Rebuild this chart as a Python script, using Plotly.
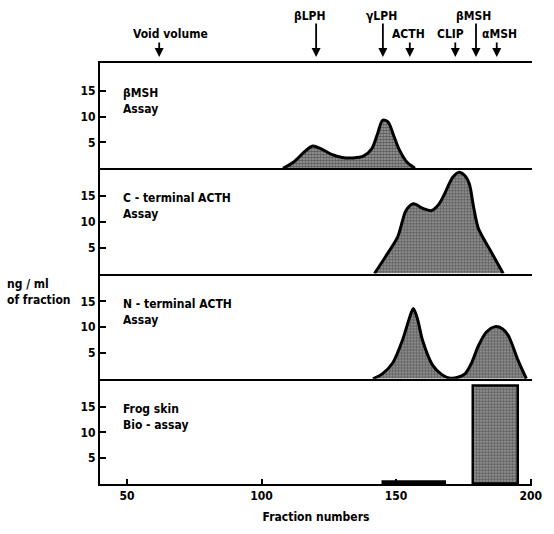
import plotly.graph_objects as go
from plotly.subplots import make_subplots

# ---- data ----
bmsh_x = [108, 112, 116, 119, 122, 126, 130, 134, 138, 141, 143, 145, 147, 149, 151, 154, 157]
bmsh_y = [0, 1.2, 3.2, 4.3, 3.8, 2.7, 2.1, 2.0, 2.4, 3.8, 6.5, 9.3, 9.0, 6.5, 3.8, 1.2, 0]

cterm_x = [142, 146, 150.6, 153.7, 156.4, 160, 163.2, 166, 168, 171, 173.3, 175.5, 177.2, 178.8, 180.6, 185, 189.8]
cterm_y = [0, 3.2, 7.1, 12.2, 13.5, 12.6, 12.2, 13.5, 15.4, 18.6, 19.6, 19.0, 17.4, 12.9, 8.7, 4.5, 0]

nterm_x = [141.4, 145, 148.8, 152.4, 154.8, 156.4, 158, 159.8, 163.5, 167, 170.2, 173, 175.7, 178, 180.6, 183.5, 186.8, 189.5, 191.7, 195.3, 198.4]
nterm_y = [0, 1.0, 3.1, 7.5, 11.5, 13.6, 11.5, 7.5, 2.7, 0.8, 0.1, 0.3, 1.0, 3.0, 6.4, 9.0, 10.1, 9.7, 8.4, 3.6, 0]

frog_start = [145, 178.5]
frog_end = [168, 195.2]
frog_value = [0.5, 19.0]

panel_labels = ["βMSH<br>Assay", "C - terminal ACTH<br>Assay",
                "N - terminal ACTH<br>Assay", "Frog skin<br>Bio - assay"]

marker_names = ["Void volume", "βLPH", "γLPH", "ACTH", "CLIP", "βMSH", "αMSH"]
marker_x = [62, 120.3, 145.1, 155.1, 172, 179.7, 187.4]
marker_label_x = [66.2, 118, 144.5, 154.8, 170.2, 178.7, 188.6]
marker_long = [False, True, True, False, False, True, False]

x_ticks = [50, 100, 150, 200]
y_ticks = [5, 10, 15]

FONT = "DejaVu Sans Condensed, Liberation Sans Narrow, Arial Narrow, sans-serif"
PLOT_TOP = 63
PLOT_H = 428


def paper_y(px):
    return 1 + (PLOT_TOP - px) / PLOT_H


fig = make_subplots(rows=4, cols=1, shared_xaxes=True, vertical_spacing=0)

pattern = dict(shape=".", size=3, solidity=0.65, fgcolor="#1a1a1a", bgcolor="#a0a0a0")

for r, (xs, ys) in enumerate([(bmsh_x, bmsh_y), (cterm_x, cterm_y), (nterm_x, nterm_y)], start=1):
    fig.add_trace(go.Scatter(x=xs, y=ys, mode="lines", fill="tozeroy",
                             line=dict(color="black", width=3, shape="spline", smoothing=0.8),
                             fillcolor="#707070", fillpattern=pattern,
                             showlegend=False, hoverinfo="skip"), row=r, col=1)

centers = [(a + b) / 2 for a, b in zip(frog_start, frog_end)]
widths = [b - a for a, b in zip(frog_start, frog_end)]
fig.add_trace(go.Bar(x=centers, y=frog_value, width=widths,
                     marker=dict(color="#707070", pattern=pattern,
                                 line=dict(color="black", width=2.5)),
                     showlegend=False, hoverinfo="skip"), row=4, col=1)

for r in range(1, 5):
    fig.update_yaxes(range=[0, 20.4], tickvals=y_ticks, ticks="inside", ticklen=6, tickwidth=2,
                     tickcolor="black", showline=True, linecolor="black", linewidth=2,
                     showgrid=False, zeroline=False,
                     tickfont=dict(family=FONT, size=12, color="black", weight="bold"),
                     row=r, col=1)
    fig.update_xaxes(range=[40, 200.5], showline=True, linecolor="black", linewidth=2,
                     showgrid=False, zeroline=False, row=r, col=1,
                     mirror=(r == 1))

fig.update_xaxes(tickvals=x_ticks, ticks="inside", ticklen=5, tickwidth=2, tickcolor="black",
                 tickfont=dict(family=FONT, size=12, color="black", weight="bold"),
                 title=dict(text="Fraction numbers", standoff=10,
                            font=dict(family=FONT, size=12, color="black", weight="bold")),
                 row=4, col=1)

# panel labels
for r, lab in enumerate(panel_labels, start=1):
    fig.add_annotation(text=lab, x=47.8, y=13.0, xref=f"x{r if r > 1 else ''}",
                       yref=f"y{r if r > 1 else ''}", xanchor="left", yanchor="middle",
                       align="left", showarrow=False,
                       font=dict(family=FONT, size=12, color="black", weight="bold"))

# marker arrows along the top
HEAD_PX = 57
for name, mx, lx, lng in zip(marker_names, marker_x, marker_label_x, marker_long):
    length = 35 if lng else 16
    fig.add_annotation(x=mx, y=paper_y(HEAD_PX), xref="x", yref="paper", text="", showarrow=True,
                       ax=0, ay=-length, arrowhead=2, arrowsize=1, arrowwidth=1.8,
                       arrowcolor="black", standoff=0, startstandoff=0)
    label_center = HEAD_PX - length - 7
    fig.add_annotation(x=lx, y=paper_y(label_center), xref="x", yref="paper",
                       text=name, showarrow=False, xanchor="center", yanchor="middle",
                       font=dict(family=FONT, size=12, color="black", weight="bold"))

fig.add_annotation(text="ng / ml<br>of fraction", x=-0.22, y=0.455, xref="paper", yref="paper",
                   xanchor="left", yanchor="middle", align="left", showarrow=False,
                   font=dict(family=FONT, size=12, color="black", weight="bold"))

fig.update_layout(width=554, height=534, margin=dict(l=100, r=17, t=63, b=43),
                  plot_bgcolor="white", paper_bgcolor="white", bargap=0,
                  font=dict(family=FONT, color="black"))

fig.write_html("out.html")
